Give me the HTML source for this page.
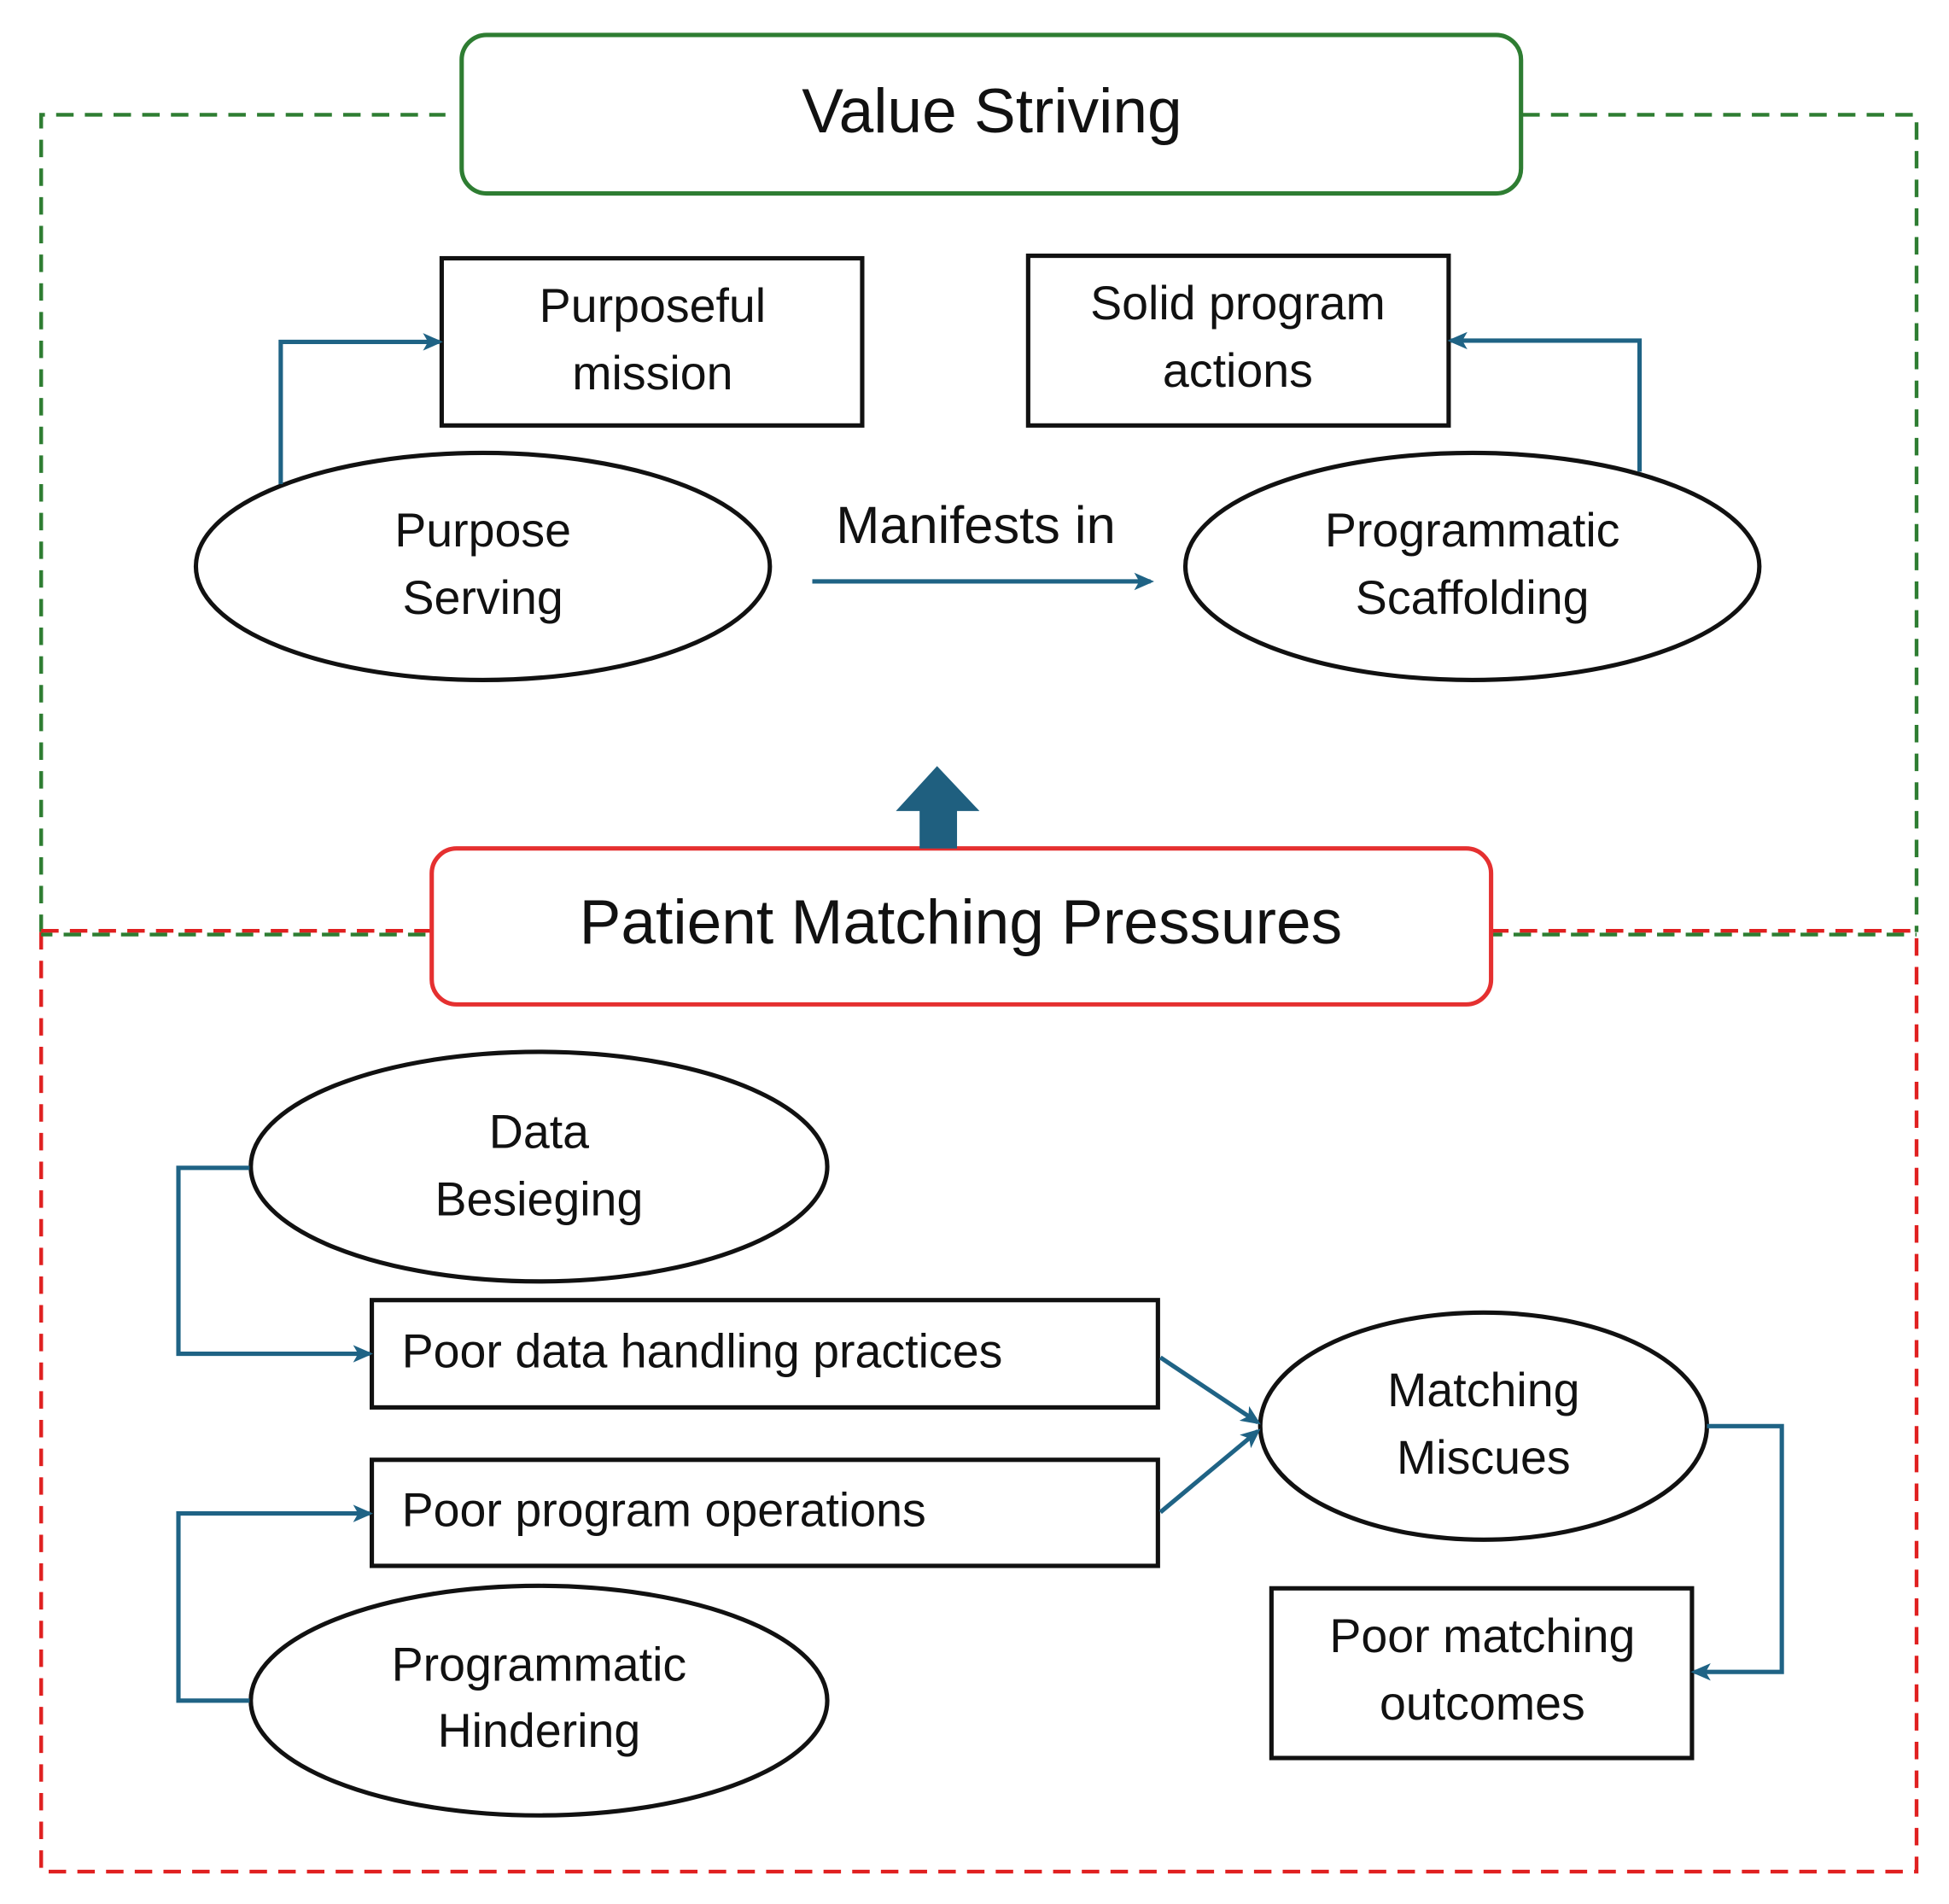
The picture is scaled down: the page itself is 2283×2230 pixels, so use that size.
<!DOCTYPE html>
<html><head><meta charset="utf-8"><style>html,body{margin:0;padding:0;background:#fff}svg{display:block}text{font-family:"Liberation Sans",sans-serif;fill:#111;text-anchor:middle;dominant-baseline:middle}</style></head><body>
<svg width="2283" height="2230" viewBox="0 0 1562 1526" preserveAspectRatio="none" xmlns="http://www.w3.org/2000/svg">
<defs><marker id="a" markerWidth="16" markerHeight="16" refX="13" refY="8" orient="auto" markerUnits="userSpaceOnUse"><path d="M0,1 L16,8 L0,15 L4,8 Z" fill="#1f6385"/></marker></defs>
<g fill="none" stroke-width="3" stroke-dasharray="14,9">
<path d="M33,747 V92 H357 M1220,92 H1536 V747" stroke="#2e7d32"/>
<path d="M33,747 V1500 H1536 V747" stroke="#e02020"/>
<path d="M33,746 H346 M1195,746 H1536" stroke="#e02020"/>
<path d="M33,749 H346 M1195,749 H1536" stroke="#2e7d32" stroke-dashoffset="5"/>
</g>
<rect x="370" y="28" width="849" height="127" rx="20" fill="#fff" stroke="#2e7d32" stroke-width="3.5"/>
<text x="795" y="93" font-size="50">Value Striving</text>
<rect x="346" y="680" width="849" height="125" rx="20" fill="#fff" stroke="#e53030" stroke-width="3.5"/>
<text x="770" y="743" font-size="50">Patient Matching Pressures</text>
<g fill="#fff" stroke="#111" stroke-width="3.5">
<rect x="354" y="207" width="337" height="134"/>
<rect x="824" y="205" width="337" height="136"/>
<ellipse cx="387" cy="454" rx="230" ry="91"/>
<ellipse cx="1180" cy="454" rx="230" ry="91"/>
<ellipse cx="432" cy="935" rx="231" ry="92"/>
<rect x="298" y="1042" width="630" height="86"/>
<rect x="298" y="1170" width="630" height="85"/>
<ellipse cx="432" cy="1363" rx="231" ry="92"/>
<ellipse cx="1189" cy="1143" rx="179" ry="91"/>
<rect x="1019" y="1273" width="337" height="136"/>
</g>
<g font-size="38">
<text x="523" y="248">Purposeful</text><text x="523" y="302">mission</text>
<text x="992" y="246">Solid program</text><text x="992" y="300">actions</text>
<text x="387" y="428">Purpose</text><text x="387" y="482">Serving</text>
<text x="1180" y="428">Programmatic</text><text x="1180" y="482">Scaffolding</text>
<text x="782" y="424" font-size="42">Manifests in</text>
<text x="432" y="910">Data</text><text x="432" y="964">Besieging</text>
<text x="322" y="1086" style="text-anchor:start">Poor data handling practices</text>
<text x="322" y="1213" style="text-anchor:start">Poor program operations</text>
<text x="432" y="1337">Programmatic</text><text x="432" y="1390">Hindering</text>
<text x="1189" y="1117">Matching</text><text x="1189" y="1171">Miscues</text>
<text x="1188" y="1314">Poor matching</text><text x="1188" y="1368">outcomes</text>
</g>
<g fill="none" stroke="#1f6385" stroke-width="3.5" marker-end="url(#a)">
<path d="M225,388 V274 H352"/>
<path d="M1314,378 V273 H1163"/>
<path d="M651,466 H922"/>
<path d="M200,936 H143 V1085 H296"/>
<path d="M200,1363 H143 V1213 H296"/>
<path d="M930,1088 L1008,1140"/>
<path d="M930,1212 L1008,1147"/>
<path d="M1368,1143 H1428 V1340 H1358"/>
</g>
<path d="M737,680 V650 H718 L751,614 L785,650 H767 V680 Z" fill="#1f5f7f"/>
</svg>
</body></html>
